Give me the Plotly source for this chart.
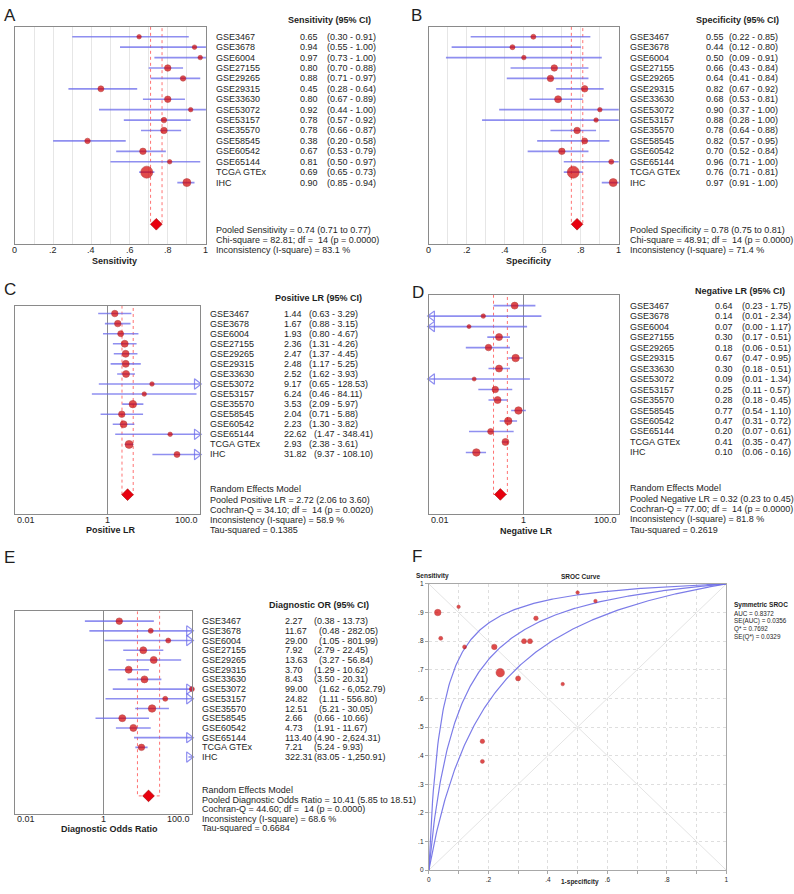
import math
import plotly.graph_objects as go

# ---------------- data ----------------
studies = ["GSE3467", "GSE3678", "GSE6004", "GSE27155", "GSE29265", "GSE29315", "GSE33630",
           "GSE53072", "GSE53157", "GSE35570", "GSE58545", "GSE60542", "GSE65144", "TCGA GTEx", "IHC"]

sens = [0.65, 0.94, 0.97, 0.80, 0.88, 0.45, 0.80, 0.92, 0.78, 0.78, 0.38, 0.67, 0.81, 0.69, 0.90]
sens_lo = [0.30, 0.55, 0.73, 0.70, 0.71, 0.28, 0.67, 0.44, 0.57, 0.66, 0.20, 0.53, 0.50, 0.65, 0.85]
sens_hi = [0.91, 1.00, 1.00, 0.88, 0.97, 0.64, 0.89, 1.00, 0.92, 0.87, 0.58, 0.79, 0.97, 0.73, 0.94]

spec = [0.55, 0.44, 0.50, 0.66, 0.64, 0.82, 0.68, 0.90, 0.88, 0.78, 0.82, 0.70, 0.96, 0.76, 0.97]
spec_lo = [0.22, 0.12, 0.09, 0.43, 0.41, 0.67, 0.53, 0.37, 0.28, 0.64, 0.57, 0.52, 0.71, 0.71, 0.91]
spec_hi = [0.85, 0.80, 0.91, 0.84, 0.84, 0.92, 0.81, 1.00, 1.00, 0.88, 0.95, 0.84, 1.00, 0.81, 1.00]

plr = [1.44, 1.67, 1.93, 2.36, 2.47, 2.48, 2.52, 9.17, 6.24, 3.53, 2.04, 2.23, 22.62, 2.93, 31.82]
plr_lo = [0.63, 0.88, 0.80, 1.31, 1.37, 1.17, 1.62, 0.65, 0.46, 2.09, 0.71, 1.30, 1.47, 2.38, 9.37]
plr_hi = [3.29, 3.15, 4.67, 4.26, 4.45, 5.25, 3.93, 128.53, 84.11, 5.97, 5.88, 3.82, 348.41, 3.61, 108.10]

nlr = [0.64, 0.14, 0.07, 0.30, 0.18, 0.67, 0.30, 0.09, 0.25, 0.28, 0.77, 0.47, 0.20, 0.41, 0.10]
nlr_lo = [0.23, 0.01, 0.00, 0.17, 0.06, 0.47, 0.18, 0.01, 0.11, 0.18, 0.54, 0.31, 0.07, 0.35, 0.06]
nlr_hi = [1.75, 2.34, 1.17, 0.51, 0.51, 0.95, 0.51, 1.34, 0.57, 0.45, 1.10, 0.72, 0.61, 0.47, 0.16]

dor = [2.27, 11.67, 29.00, 7.92, 13.63, 3.70, 8.43, 99.00, 24.82, 12.51, 2.66, 4.73, 113.40, 7.21, 322.31]
dor_lo = [0.38, 0.48, 1.05, 2.79, 3.27, 1.29, 3.50, 1.62, 1.11, 5.21, 0.66, 1.91, 4.90, 5.24, 83.05]
dor_hi = [13.73, 282.05, 801.99, 22.45, 56.84, 10.62, 20.31, 6052.79, 556.80, 30.05, 10.66, 11.67,
          2624.31, 9.93, 1250.91]

pooled_sens = (0.74, 0.71, 0.77)
pooled_spec = (0.78, 0.75, 0.81)
pooled_plr = (2.72, 2.06, 3.60)
pooled_nlr = (0.32, 0.23, 0.45)
pooled_dor = (10.41, 5.85, 18.51)

stats_sens = ["Pooled Sensitivity = 0.74 (0.71 to 0.77)",
              "Chi-square = 82.81; df =\u00a0 14 (p = 0.0000)",
              "Inconsistency (I-square) = 83.1 %"]
stats_spec = ["Pooled Specificity = 0.78 (0.75 to 0.81)",
              "Chi-square = 48.91; df =\u00a0 14 (p = 0.0000)",
              "Inconsistency (I-square) = 71.4 %"]
stats_plr = ["Random Effects Model",
             "Pooled Positive LR = 2.72 (2.06 to 3.60)",
             "Cochran-Q = 34.10; df =\u00a0 14 (p = 0.0020)",
             "Inconsistency (I-square) = 58.9 %",
             "Tau-squared = 0.1385"]
stats_nlr = ["Random Effects Model",
             "Pooled Negative LR = 0.32 (0.23 to 0.45)",
             "Cochran-Q = 77.00; df =\u00a0 14 (p = 0.0000)",
             "Inconsistency (I-square) = 81.8 %",
             "Tau-squared = 0.2619"]
stats_dor = ["Random Effects Model",
             "Pooled Diagnostic Odds Ratio = 10.41 (5.85 to 18.51)",
             "Cochran-Q = 44.60; df =\u00a0 14 (p = 0.0000)",
             "Inconsistency (I-square) = 68.6 %",
             "Tau-squared = 0.6684"]

sroc_auc = 0.8372
sroc_se_auc = 0.0356
sroc_q_star = 0.7692
sroc_se_q_star = 0.0329

linear_ticks = [0, 0.2, 0.4, 0.6, 0.8, 1.0]
linear_tick_text = ["0", ".2", ".4", ".6", ".8", "1"]
log_ticks = [0.01, 1, 100]
log_tick_text = ["0.01", "1", "100.0"]

# ---------------- style (marker sizes per panel) ----------------
size_sens = [4.5, 4.5, 4.5, 6.5, 5.5, 6, 6.5, 4.5, 5.5, 6.5, 5.5, 6.5, 4.5, 12, 8]
size_spec = [5, 5, 4.5, 6.5, 6.5, 6.5, 7, 4.5, 4.5, 6.5, 6, 6.5, 5, 12, 8]
size_plr = [6.5, 6.5, 6, 7, 7, 7, 7, 4.5, 4.5, 7.5, 6.5, 7, 4.5, 8, 6]
size_nlr = [7, 4.5, 4, 7, 6.5, 7.5, 7, 4, 6.5, 7, 7.5, 7.5, 6, 7, 7.5]
size_dor = [6.5, 5, 5, 7, 7, 7, 7, 5, 5, 7.5, 7, 7, 5, 6.5, 6]
size_sroc = [3.5, 3.5, 3.5, 5, 4.5, 4.5, 5, 3.5, 4, 5.5, 4, 5, 4, 8.5, 6.5]

W, H = 794, 894
FONT = "Liberation Sans, Arial, sans-serif"
FS = 9
TXT = "#1e1e1e"
CI_COLOR = "rgba(105,105,235,0.75)"
DOT = "#d40000"
DOT_EDGE = "#a00000"
POOL_COLOR = "rgba(255,90,90,0.85)"
FRAME = "#8a8a8a"


def px(x):
    return x / W


def py(y):
    return 1 - y / H


fig = go.Figure()
annotations = []


def text(x, y, s, size=FS, anchor="left", bold=False, xref="paper", yref="paper", color=TXT):
    if bold:
        s = "<b>" + s + "</b>"
    annotations.append(dict(x=x, y=y, xref=xref, yref=yref, text=s, showarrow=False,
                            xanchor=anchor, yanchor="middle",
                            font=dict(family=FONT, size=size, color=color)))


layout_axes = {}


def forest(idx, vals, lo, hi, pool, sizes, cfg):
    sfx = "" if idx == 1 else str(idx)
    xa, ya = "x" + sfx, "y" + sfx
    n = len(vals)
    sp = (cfg["rowN"] - cfg["row1"]) / (n - 1)
    r_top = 1 + (cfg["top"] - cfg["row1"]) / sp
    r_bot = 1 + (cfg["bottom"] - cfg["row1"]) / sp
    rows = list(range(1, n + 1))
    pool_row = n + 4
    is_log = cfg["log"]
    xmin, xmax = cfg["xrange"]

    # pooled CI box
    fig.add_trace(go.Scatter(x=[pool[1], pool[1], pool[2], pool[2]],
                             y=[r_top, pool_row, pool_row, r_top], mode="lines",
                             line=dict(color=POOL_COLOR, width=1, dash="dot"),
                             xaxis=xa, yaxis=ya, hoverinfo="skip"))
    # CI lines
    xs, ys = [], []
    for r, l, h in zip(rows, lo, hi):
        a = max(l, xmin)
        b = min(h, xmax)
        xs += [a, b, None]
        ys += [r, r, None]
    fig.add_trace(go.Scatter(x=xs, y=ys, mode="lines", line=dict(color=CI_COLOR, width=1.6),
                             xaxis=xa, yaxis=ya, hoverinfo="skip"))
    # arrows for truncated CIs
    if is_log:
        lmax, lmin = math.log10(xmax), math.log10(xmin)
        ra = [r for r, h in zip(rows, hi) if h >= xmax]
        la = [r for r, l in zip(rows, lo) if l <= xmin]
        if ra:
            fig.add_trace(go.Scatter(x=[10 ** (lmax - 0.07)] * len(ra), y=ra, mode="markers",
                                     marker=dict(symbol="triangle-right-open", size=9,
                                                 color=CI_COLOR, line=dict(width=1.2)),
                                     cliponaxis=False, xaxis=xa, yaxis=ya, hoverinfo="skip"))
        if la:
            fig.add_trace(go.Scatter(x=[10 ** (lmin + 0.07)] * len(la), y=la, mode="markers",
                                     marker=dict(symbol="triangle-left-open", size=9,
                                                 color=CI_COLOR, line=dict(width=1.2)),
                                     cliponaxis=False, xaxis=xa, yaxis=ya, hoverinfo="skip"))
    # point estimates (only those inside the axis range are visible)
    keep = [i for i, v in enumerate(vals) if xmin <= v <= xmax]
    fig.add_trace(go.Scatter(x=[vals[i] for i in keep], y=[rows[i] for i in keep], mode="markers",
                             marker=dict(symbol="circle", size=[sizes[i] for i in keep], color=DOT,
                                         line=dict(color=DOT_EDGE, width=0.6)),
                             cliponaxis=False, xaxis=xa, yaxis=ya, hoverinfo="skip"))
    # pooled diamond
    fig.add_trace(go.Scatter(x=[pool[0]], y=[pool_row], mode="markers",
                             marker=dict(symbol="diamond", size=9, color="#e8000e",
                                         line=dict(color=DOT_EDGE, width=0.6)),
                             cliponaxis=False, xaxis=xa, yaxis=ya, hoverinfo="skip"))

    xaxis = dict(domain=[px(cfg["left"]), px(cfg["right"])], anchor=ya, showline=True, mirror=True,
                 linecolor=FRAME, linewidth=1, zeroline=False, showticklabels=False, ticks="",
                 fixedrange=True)
    if is_log:
        xaxis.update(type="log", range=[math.log10(xmin), math.log10(xmax)], tickvals=[1],
                     showgrid=True, gridcolor="#8a8a8a", gridwidth=1)
    else:
        xaxis.update(range=[xmin, xmax], dtick=0.1, tick0=0, showgrid=True, gridcolor="#e6e6e6",
                     gridwidth=1)
    yaxis = dict(domain=[py(cfg["bottom"]), py(cfg["top"])], anchor=xa, range=[r_bot, r_top],
                 showline=True, mirror=True, linecolor=FRAME, linewidth=1, showgrid=False,
                 zeroline=False, showticklabels=False, ticks="", fixedrange=True)
    layout_axes["xaxis" + sfx] = xaxis
    layout_axes["yaxis" + sfx] = yaxis

    # tick labels
    if is_log:
        anchors = ["left", "center", "right"]
        for v, t, a in zip(log_ticks, log_tick_text, anchors):
            text(math.log10(v), py(cfg["tick_y"]), t, anchor=a, xref=xa)
    else:
        for v, t in zip(linear_ticks, linear_tick_text):
            text(v, py(cfg["tick_y"]), t, anchor="center", xref=xa)
    # axis title
    text(px(cfg["title"][1]), py(cfg["title"][2]), cfg["title"][0], anchor="center", bold=True)
    # header
    text(px(cfg["header"][1]), py(cfg["header"][2]), cfg["header"][0], anchor=cfg["header"][3], bold=True)
    # study rows
    for r, s, v, l, h in zip(rows, studies, vals, lo, hi):
        vt = f"{v:,.2f}"
        ct = f"({l:,.2f} - {h:,.2f})"
        text(px(cfg["name_x"]), r, s, yref=ya)
        text(px(cfg["val_x"]), r, vt, yref=ya)
        text(px(cfg["ci_x"] + (5 if len(vt) == 5 else 0)), r, ct, yref=ya)
    # statistics
    for line, yy in zip(cfg["stats"], cfg["stats_y"]):
        text(px(cfg["name_x"]), py(yy), line)
    # panel letter
    text(px(cfg["letter"][1]), py(cfg["letter"][2]), cfg["letter"][0], size=17, anchor="center")


forest(1, sens, sens_lo, sens_hi, pooled_sens, size_sens, dict(
    left=13, right=205, top=23, bottom=242, row1=33, rowN=180, log=False, xrange=(0, 1),
    tick_y=248, title=("Sensitivity", 113, 259), header=("Sensitivity (95% CI)", 373, 16, "right"),
    name_x=213, val_x=298, ci_x=325, stats=stats_sens, stats_y=[228, 238, 248], letter=("A", 8, 12)))

forest(2, spec, spec_lo, spec_hi, pooled_spec, size_spec, dict(
    left=429, right=620, top=23, bottom=242, row1=33, rowN=180, log=False, xrange=(0, 1),
    tick_y=248, title=("Specificity", 529, 259), header=("Specificity (95% CI)", 783, 16, "right"),
    name_x=629, val_x=706, ci_x=729, stats=stats_spec, stats_y=[228, 238, 248], letter=("B", 417, 12)))

forest(3, plr, plr_lo, plr_hi, pooled_plr, size_plr, dict(
    left=13, right=199, top=304, bottom=514, row1=312, rowN=454, log=True, xrange=(0.01, 100),
    tick_y=520, title=("Positive LR", 110, 530), header=("Positive LR (95% CI)", 364, 296, "right"),
    name_x=207, val_x=281, ci_x=307, stats=stats_plr, stats_y=[489, 499.5, 509.5, 520, 530],
    letter=("C", 8, 288)))

forest(4, nlr, nlr_lo, nlr_hi, pooled_nlr, size_nlr, dict(
    left=429, right=620, top=293, bottom=514, row1=304, rowN=452, log=True, xrange=(0.01, 100),
    tick_y=520, title=("Negative LR", 527, 531), header=("Negative LR (95% CI)", 789, 289, "right"),
    name_x=629, val_x=715, ci_x=742, stats=stats_nlr, stats_y=[488, 498.5, 509, 519.5, 530],
    letter=("D", 418, 291)))

forest(5, dor, dor_lo, dor_hi, pooled_dor, size_dor, dict(
    left=13, right=191, top=612, bottom=816, row1=622, rowN=759, log=True, xrange=(0.01, 100),
    tick_y=821, title=("Diagnostic Odds Ratio", 108, 832), header=("Diagnostic OR (95% CI)", 371, 606, "right"),
    name_x=199, val_x=282, ci_x=312, stats=stats_dor, stats_y=[792, 802, 811.5, 821, 831],
    letter=("E", 8, 558)))

# ---------------- F: SROC ----------------
xa, ya = "x6", "y6"
fig.add_trace(go.Scatter(x=[0, 1, None, 0, 1], y=[0, 1, None, 1, 0], mode="lines",
                         line=dict(color="#e4e4e4", width=1), xaxis=xa, yaxis=ya, hoverinfo="skip"))
# symmetric SROC curve and its bounds from Q* +/- 1.96 SE(Q*)
fpr_grid = [i / 400 for i in range(401)]
for q in (sroc_q_star + 1.96 * sroc_se_q_star, sroc_q_star, sroc_q_star - 1.96 * sroc_se_q_star):
    d = (q / (1 - q)) ** 2
    tpr = [d * f / (1 - f + d * f) for f in fpr_grid]
    fig.add_trace(go.Scatter(x=fpr_grid, y=tpr, mode="lines",
                             line=dict(color="rgba(110,110,230,0.9)", width=1.2),
                             xaxis=xa, yaxis=ya, hoverinfo="skip"))
fig.add_trace(go.Scatter(x=[1 - s for s in spec], y=sens, mode="markers",
                         marker=dict(size=size_sroc, color=DOT, line=dict(color=DOT_EDGE, width=0.5)),
                         cliponaxis=False, xaxis=xa, yaxis=ya, hoverinfo="skip"))

grid10 = [i / 10 for i in range(11)]
layout_axes["xaxis6"] = dict(domain=[px(429), px(728)], anchor=ya, range=[0, 1], tickvals=grid10,
                             ticktext=["0", "", ".2", "", ".4", "", ".6", "", ".8", "", "1"],
                             showgrid=True, gridcolor="#dedede", griddash="dot", gridwidth=1,
                             showline=True, mirror=True, linecolor="#a8a8a8", zeroline=False,
                             ticks="outside", ticklen=3, tickcolor="#a8a8a8",
                             tickfont=dict(family=FONT, size=6.5, color=TXT), fixedrange=True)
layout_axes["yaxis6"] = dict(domain=[py(873), py(584.5)], anchor=xa, range=[0, 1], tickvals=grid10,
                             ticktext=["0", ".1", ".2", ".3", ".4", ".5", ".6", ".7", ".8", ".9", "1"],
                             showgrid=True, gridcolor="#dedede", griddash="dot", gridwidth=1,
                             showline=True, mirror=True, linecolor="#a8a8a8", zeroline=False,
                             ticks="outside", ticklen=3, tickcolor="#a8a8a8",
                             tickfont=dict(family=FONT, size=6.5, color=TXT), fixedrange=True)

text(px(433), py(577), "Sensitivity", size=6.5, anchor="center", bold=True)
text(px(581), py(577), "SROC Curve", size=6.5, anchor="center", bold=True)
text(px(581), py(885), "1-specificity", size=6.5, anchor="center", bold=True)
text(px(734), py(606), "Symmetric SROC", size=6.5, bold=True)
sroc_lines = [f"AUC = {sroc_auc:.4f}", f"SE(AUC) = {sroc_se_auc:.4f}",
              f"Q* = {sroc_q_star:.4f}", f"SE(Q*) = {sroc_se_q_star:.4f}"]
for k, s in enumerate(sroc_lines):
    text(px(734), py(614 + 8 * k), s, size=6.3)
text(px(417), py(557), "F", size=17, anchor="center")

fig.update_layout(width=W, height=H, autosize=False, margin=dict(l=0, r=0, t=0, b=0),
                  paper_bgcolor="white", plot_bgcolor="white", showlegend=False,
                  annotations=annotations, **layout_axes)

fig.write_html("out.html", config={"displayModeBar": False},
               post_script="document.body.style.margin='0';document.body.style.overflow='hidden';")
